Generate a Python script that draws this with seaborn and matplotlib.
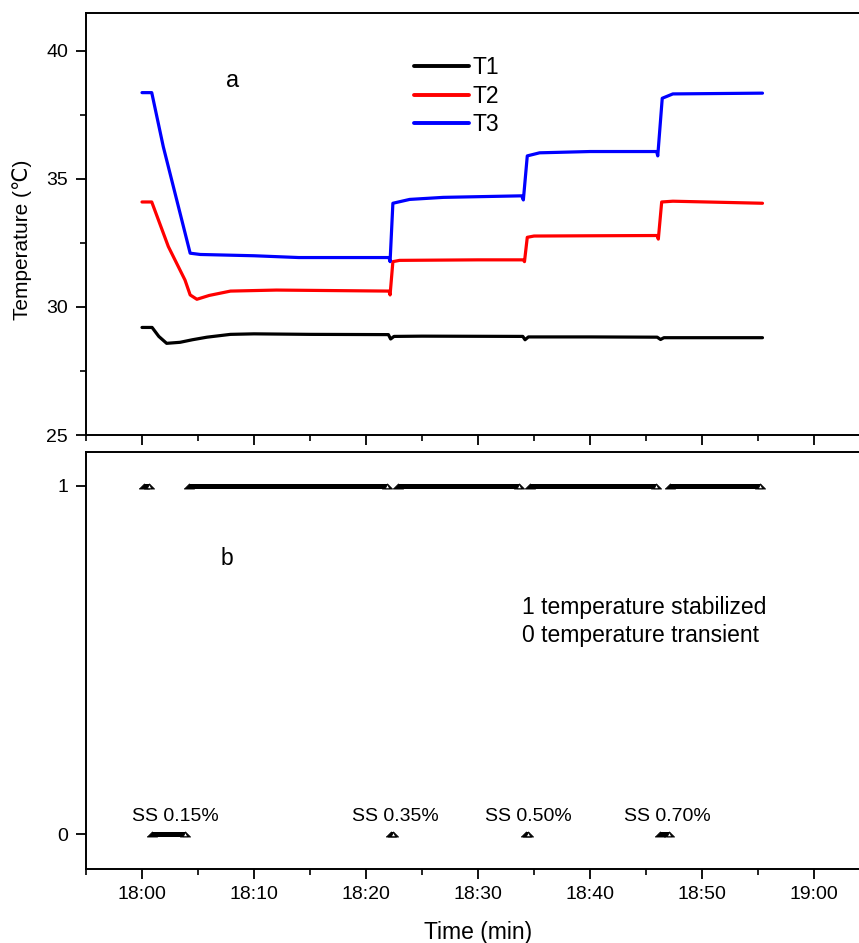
import numpy as np
import pandas as pd
import matplotlib
matplotlib.use("Agg")
import matplotlib.pyplot as plt
from matplotlib.ticker import MultipleLocator, FixedLocator, FixedFormatter
import seaborn as sns

# ---------------- data (minutes after 18:00) ----------------
t1_time = [0, 0.9, 1.5, 2.2, 3.4, 4.5, 5.8, 7.9, 10, 15, 22.0, 22.2, 22.5, 25,
           34.0, 34.2, 34.5, 40, 46.0, 46.3, 46.6, 50, 55.4]
t1_vals = [29.2, 29.2, 28.85, 28.58, 28.62, 28.72, 28.82, 28.93, 28.95, 28.93,
           28.92, 28.75, 28.85, 28.86, 28.85, 28.72, 28.83, 28.83, 28.82, 28.73,
           28.8, 28.8, 28.8]

t2_time = [0, 0.87, 2.35, 3.84, 4.3, 4.9, 6.0, 7.9, 12, 22.05, 22.15, 22.4, 23,
           30, 34.05, 34.15, 34.4, 35, 40, 46.0, 46.1, 46.4, 47.4, 55.4]
t2_vals = [34.1, 34.1, 32.36, 31.05, 30.47, 30.3, 30.45, 30.62, 30.66, 30.62,
           30.47, 31.77, 31.82, 31.84, 31.84, 31.77, 32.72, 32.77, 32.78, 32.79,
           32.65, 34.1, 34.13, 34.05]

t3_time = [0, 0.87, 1.9, 3.4, 4.3, 5.2, 10, 14, 22.05, 22.15, 22.4, 23.9, 26.9,
           33.9, 34.05, 34.4, 35.5, 40, 45.95, 46.05, 46.45, 47.4, 55.4]
t3_vals = [38.37, 38.37, 36.26, 33.66, 32.1, 32.05, 32.0, 31.93, 31.93, 31.77,
           34.05, 34.2, 34.28, 34.34, 34.18, 35.9, 36.02, 36.07, 36.07, 35.9,
           38.15, 38.32, 38.35]

# status periods: 1 = temperature stabilized, 0 = temperature transient
stab_start = [0.2, 4.2, 22.85, 34.6, 47.15]
stab_end = [0.6, 21.85, 33.7, 45.9, 55.15]
trans_start = [0.93, 22.2, 34.25, 46.25]
trans_end = [3.85, 22.45, 34.45, 47.05]

ss_labels = ["SS 0.15%", "SS 0.35%", "SS 0.50%", "SS 0.70%"]
ss_label_time = [3.0, 22.6, 34.5, 46.95]

tick_minutes = [0, 10, 20, 30, 40, 50, 60]
tick_labels = ["18:00", "18:10", "18:20", "18:30", "18:40", "18:50", "19:00"]

# ---------------- tables ----------------
df_temp = pd.concat([
    pd.DataFrame({"time": t1_time, "temp": t1_vals, "sensor": "T1"}),
    pd.DataFrame({"time": t2_time, "temp": t2_vals, "sensor": "T2"}),
    pd.DataFrame({"time": t3_time, "temp": t3_vals, "sensor": "T3"}),
], ignore_index=True)

rows = []
seg = 0
for s, e in zip(stab_start, stab_end):
    rows += [(seg, s, 1, "start"), (seg, e, 1, "end")]
    seg += 1
for s, e in zip(trans_start, trans_end):
    rows += [(seg, s, 0, "start"), (seg, e, 0, "end")]
    seg += 1
df_state = pd.DataFrame(rows, columns=["seg", "time", "state", "end"])

# ---------------- style ----------------
sns.set_theme(style="white")
plt.rcParams["font.family"] = ["Liberation Sans", "DejaVu Sans"]
plt.rcParams["axes.linewidth"] = 1.4
plt.rcParams["axes.edgecolor"] = "black"
plt.rcParams["xtick.color"] = "black"
plt.rcParams["ytick.color"] = "black"
plt.rcParams["text.color"] = "black"
plt.rcParams["axes.labelcolor"] = "black"

W, H = 859, 943
fig = plt.figure(figsize=(W / 100, H / 100), dpi=100)

left = 86 / W
width = (870 - 86) / W
ax1 = fig.add_axes([left, 1 - 435 / H, width, (435 - 13) / H])
ax2 = fig.add_axes([left, 1 - 869 / H, width, (869 - 451.7) / H])

# ---------------- top panel ----------------
palette = {"T1": "black", "T2": "#ff0000", "T3": "#0000ff"}
sns.lineplot(data=df_temp, x="time", y="temp", hue="sensor", palette=palette,
             estimator=None, sort=False, linewidth=2.3, ax=ax1)
handles, labels = ax1.get_legend_handles_labels()
for h in handles:
    h.set_linewidth(2.8)
ax1.legend(handles, labels, loc="upper left", bbox_to_anchor=(0.418, 0.898),
           frameon=False, fontsize=16.5, handlelength=2.4, handletextpad=0.15,
           labelspacing=0.24, borderpad=0, borderaxespad=0)

ax1.set_ylim(25, 41.48)
ax1.yaxis.set_major_locator(MultipleLocator(5))
ax1.yaxis.set_minor_locator(MultipleLocator(2.5))
ax1.text(8.1, 38.83, "a", fontsize=17, ha="center", va="center")
ax1.set_ylabel("Temperature (\u2103)", fontsize=15, va="center")
ax1.yaxis.set_label_coords(-0.0816, 0.462)
ax1.set_xlabel("")

# ---------------- bottom panel ----------------
flat_tri = [(-1, -0.5), (1, -0.5), (0, 0.5), (-1, -0.5)]
sns.lineplot(data=df_state, x="time", y="state", units="seg", estimator=None,
             sort=False, color="black", linewidth=3.6, ax=ax2,
             solid_capstyle="butt")
sns.scatterplot(data=df_state[df_state["end"] == "start"], x="time", y="state",
                marker=flat_tri, s=55, color="black", edgecolor="black",
                linewidth=0.5, ax=ax2, zorder=3)
sns.scatterplot(data=df_state[df_state["end"] == "end"], x="time", y="state",
                marker=flat_tri, s=55, color="black", edgecolor="black",
                linewidth=0.5, ax=ax2, zorder=3)
sns.scatterplot(data=df_state[df_state["end"] == "end"], x="time", y="state",
                marker="^", s=10, color="white", edgecolor="black",
                linewidth=0.6, ax=ax2, zorder=4)

for lab, t in zip(ss_labels, ss_label_time):
    ax2.text(t, 0.05, lab, fontsize=14, ha="center", va="center")
ax2.text(7.6, 0.79, "b", fontsize=16.5, ha="center", va="center")
ax2.text(33.9, 0.652, "1 temperature stabilized", fontsize=16.5,
         ha="left", va="center")
ax2.text(33.9, 0.569, "0 temperature transient", fontsize=16.5,
         ha="left", va="center")

ax2.set_ylim(-0.0995, 1.0975)
ax2.yaxis.set_major_locator(FixedLocator([0, 1]))
ax2.set_yticklabels(["0", "1"])
ax2.set_ylabel("")
ax2.set_xlabel("Time (min)", fontsize=16.5, labelpad=13)

# ---------------- shared x axis ----------------
for ax in (ax1, ax2):
    ax.set_xlim(-5, 65)
    ax.xaxis.set_major_locator(FixedLocator(tick_minutes))
    ax.xaxis.set_minor_locator(MultipleLocator(5))
    ax.tick_params(axis="both", which="major", direction="out", length=7,
                   width=1.3, labelsize=14, pad=5.5)
    ax.tick_params(axis="both", which="minor", direction="out", length=4,
                   width=1.2)
    ax.tick_params(axis="y", which="both", left=True)
    ax.tick_params(axis="x", which="both", bottom=True)
    for sp in ax.spines.values():
        sp.set_visible(True)
        sp.set_linewidth(1.4)
        sp.set_color("black")
    ax.grid(False)

ax1.xaxis.set_major_formatter(FixedFormatter([""] * len(tick_minutes)))
ax2.xaxis.set_major_formatter(FixedFormatter(tick_labels))
ax1.yaxis.set_tick_params(pad=6)
ax2.yaxis.set_tick_params(pad=6)

fig.savefig("out.png", dpi=100)
